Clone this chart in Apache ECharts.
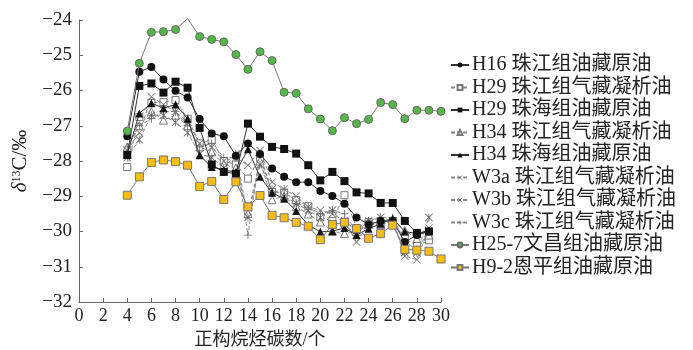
<!DOCTYPE html>
<html>
<head>
<meta charset="utf-8">
<script src="https://cdn.jsdelivr.net/npm/echarts@6/dist/echarts.min.js"></script>
<style>html,body{margin:0;padding:0;background:#fff}#c{width:693px;height:350px}</style>
</head>
<body>
<div id="c"></div>
<script>
// carbon numbers
const carbon = [4,5,6,7,8,9,10,11,12,13,14,15,16,17,18,19,20,21,22,23,24,25,26,27,28,29];
const carbon30 = [4,5,6,7,8,9,10,11,12,13,14,15,16,17,18,19,20,21,22,23,24,25,26,27,28,29,30];
const xTicks = [0,2,4,6,8,10,12,14,16,18,20,22,24,26,28,30];
const yTicks = [-32,-31,-30,-29,-28,-27,-26,-25,-24];

const seriesNames = [
  'H16 珠江组油藏原油','H29 珠江组气藏凝析油','H29 珠海组油藏原油','H34 珠江组气藏凝析油',
  'H34 珠海组油藏原油','W3a 珠江组气藏凝析油','W3b 珠江组气藏凝析油','W3c 珠江组气藏凝析油',
  'H25-7文昌组油藏原油','H9-2恩平组油藏原油'
];

const h16 = [-27.30,-25.47,-25.33,-25.69,-26.01,-26.20,-26.81,-27.22,-27.30,-27.85,-27.50,-27.80,-28.21,-28.45,-28.60,-28.60,-28.85,-28.99,-29.21,-29.60,-29.80,-29.70,-29.70,-30.30,-30.10,-30.00];
const h29zj = [-28.17,-26.75,-26.35,-26.33,-26.27,-26.80,-27.50,-27.40,-28.00,-28.10,-28.50,-27.90,-28.88,-28.90,-29.11,-29.28,-29.60,-29.70,-28.97,-29.90,-29.73,-29.80,-29.70,-30.20,-30.40,-30.25];
const h29zh = [-27.83,-25.87,-25.80,-26.06,-25.75,-25.92,-27.06,-28.10,-28.31,-28.36,-26.94,-27.31,-27.60,-27.66,-27.79,-28.12,-28.55,-28.31,-28.57,-28.89,-28.92,-29.19,-29.19,-29.70,-30.04,-30.00];
const h34zj = [-27.60,-27.00,-26.60,-26.84,-26.70,-27.00,-27.60,-27.74,-28.10,-28.20,-29.49,-28.00,-29.10,-29.00,-29.30,-29.50,-29.73,-29.99,-30.06,-30.00,-29.80,-29.80,-29.70,-29.97,-30.20,-30.10];
const h34zh = [-27.80,-26.65,-26.36,-26.50,-26.40,-26.80,-27.84,-28.17,-28.26,-28.31,-27.67,-28.45,-28.90,-29.07,-29.42,-29.82,-30.01,-29.99,-29.90,-30.10,-29.92,-29.78,-29.63,-30.00,-30.06,-29.97];
const w3a = [-27.70,-27.20,-26.18,-26.40,-26.60,-26.90,-27.50,-27.60,-28.00,-27.90,-28.12,-27.70,-28.60,-28.80,-29.00,-29.30,-29.40,-29.50,-29.70,-30.30,-29.80,-29.70,-29.70,-30.70,-30.80,-29.90];
const w3b = [-27.90,-27.40,-26.70,-26.70,-26.90,-27.20,-27.80,-27.90,-28.20,-27.80,-29.60,-28.10,-28.80,-29.00,-29.20,-29.40,-29.60,-29.40,-29.80,-30.10,-29.70,-29.60,-29.70,-30.60,-30.60,-29.60];
const w3c = [-27.60,-27.00,-26.80,-26.60,-26.60,-27.00,-27.60,-27.50,-27.90,-27.90,-30.10,-27.80,-28.90,-28.80,-29.20,-29.30,-29.50,-29.40,-29.50,-30.00,-29.70,-29.60,-29.60,-30.30,-30.50,-30.00];
const h257 = [-27.15,-25.23,-24.35,-24.33,-24.27,-23.96,-24.47,-24.55,-24.62,-24.98,-25.40,-24.90,-25.15,-26.05,-26.08,-26.52,-26.81,-27.14,-26.77,-26.94,-26.82,-26.34,-26.40,-26.80,-26.56,-26.56,-26.59];
const h92 = [-28.97,-28.45,-28.04,-27.97,-28.02,-28.12,-28.72,-28.58,-29.09,-28.59,-29.30,-28.98,-29.54,-29.61,-29.74,-29.85,-30.23,-29.80,-29.74,-29.92,-30.19,-30.06,-29.82,-30.51,-30.53,-30.56,-30.78];
const h257NoMarkerAt = 9;

const SYM_X = 'path://M0,1.4L1.4,0L10,8.6L18.6,0L20,1.4L11.4,10L20,18.6L18.6,20L10,11.4L1.4,20L0,18.6L8.6,10Z';
const SYM_PLUS = 'path://M9,0H11V9H20V11H11V20H9V11H0V9H9Z';
const SYM_AST = 'path://M0,1.4L1.4,0L10,8.6L18.6,0L20,1.4L11.4,10L20,18.6L18.6,20L10,11.4L1.4,20L0,18.6L8.6,10Z M9,0H11V20H9Z';

function pairs(xs, ys){ return xs.map((x,i)=>[x, ys[i]]); }
const fmtNum = v => (v < 0 ? '\u2212' : '') + Math.abs(v);

const serif = '"Liberation Serif","Noto Sans CJK SC",serif';
const GRAY = '#8a8a8a';

function mk(name, ys, xs, o){
  return Object.assign({
    name, type:'line', data: pairs(xs, ys), clip:false,
    symbolSize: 7, showSymbol: true
  }, o);
}

const series = [
  mk(seriesNames[1], h29zj, carbon, {symbol:'rect', symbolSize:7, z:3,
     itemStyle:{color:'#fff', borderColor:'#777', borderWidth:1},
     lineStyle:{color:GRAY, width:1, type:[4,2]}}),
  mk(seriesNames[3], h34zj, carbon, {symbol:'triangle', symbolSize:8, z:3,
     itemStyle:{color:'#fff', borderColor:'#777', borderWidth:1},
     lineStyle:{color:GRAY, width:1, type:[4,2]}}),
  mk(seriesNames[5], w3a, carbon, {symbol:SYM_X, symbolSize:8, z:3,
     itemStyle:{color:'#777'}, lineStyle:{color:GRAY, width:1, type:[4,2]}}),
  mk(seriesNames[6], w3b, carbon, {symbol:SYM_AST, symbolSize:8, z:3,
     itemStyle:{color:'#666'}, lineStyle:{color:GRAY, width:1, type:[4,2]}}),
  mk(seriesNames[7], w3c, carbon, {symbol:SYM_PLUS, symbolSize:8, z:3,
     itemStyle:{color:'#666'}, lineStyle:{color:GRAY, width:1, type:[4,2]}}),
  mk(seriesNames[4], h34zh, carbon, {symbol:'triangle', symbolSize:8, z:4,
     itemStyle:{color:'#111'}, lineStyle:{color:'#333', width:1}}),
  mk(seriesNames[0], h16, carbon, {symbol:'circle', symbolSize:8, z:4,
     itemStyle:{color:'#111'}, lineStyle:{color:'#333', width:1}}),
  mk(seriesNames[2], h29zh, carbon, {symbol:'rect', symbolSize:8, z:4,
     itemStyle:{color:'#111'}, lineStyle:{color:'#333', width:1}}),
  {
    name: seriesNames[8], type:'line', clip:false, z:5,
    data: carbon30.map((x,i)=> x === h257NoMarkerAt ? {value:[x,h257[i]], symbol:'none'} : [x,h257[i]]),
    symbol:'circle', symbolSize:8,
    itemStyle:{color:'#55b748', borderColor:'#666', borderWidth:1},
    lineStyle:{color:'#777', width:1}
  },
  mk(seriesNames[9], h92, carbon30, {symbol:'rect', symbolSize:8, z:5,
     itemStyle:{color:'#f9bc15', borderColor:'#777', borderWidth:1},
     lineStyle:{color:'#777', width:1}})
];

const chart = echarts.init(document.getElementById('c'), null, {renderer:'canvas'});
chart.setOption({
  animation:false,
  backgroundColor:'#fff',
  grid:{left:79, right:252, top:20, bottom:48, containLabel:false, outerBoundsMode:'none'},
  xAxis:{
    type:'value', min:0, max:30, interval:2,
    name:'正构烷烃碳数/个', nameLocation:'middle', nameGap:29,
    nameTextStyle:{fontFamily:serif, fontSize:18, color:'#222'},
    axisLine:{lineStyle:{color:'#666', width:1}},
    axisTick:{inside:true, length:4, lineStyle:{color:'#666'}},
    axisLabel:{fontFamily:serif, fontSize:18, color:'#222', margin:5, formatter: v => xTicks.includes(v) ? fmtNum(v) : ''},
    splitLine:{show:false}
  },
  yAxis:{
    type:'value', min:-32, max:-24, interval:1,
    name:'{i|δ}{s|13}C/‰', nameLocation:'middle', nameGap:36, nameRotate:90,
    nameTextStyle:{fontFamily:serif, fontSize:21, color:'#222',
      rich:{i:{fontFamily:serif, fontStyle:'italic', fontSize:21, color:'#222'},
            s:{fontFamily:serif, fontSize:12, color:'#222', verticalAlign:'top', padding:[0,0,9,0]}}},
    axisLine:{show:true, lineStyle:{color:'#666', width:1}},
    axisTick:{show:true, inside:true, length:4, lineStyle:{color:'#666'}},
    axisLabel:{fontFamily:serif, fontSize:19, color:'#222', margin:7, formatter: v => yTicks.includes(v) ? fmtNum(v) : ''},
    splitLine:{show:false}
  },
  legend:{
    data: seriesNames, orient:'vertical', left:450, top:55, padding:0,
    itemWidth:18, itemHeight:6, itemGap:2.5,
    textStyle:{fontFamily:serif, fontSize:20, lineHeight:20, color:'#222', padding:[0,0,0,-2]}
  },
  series
});
</script>
</body>
</html>
